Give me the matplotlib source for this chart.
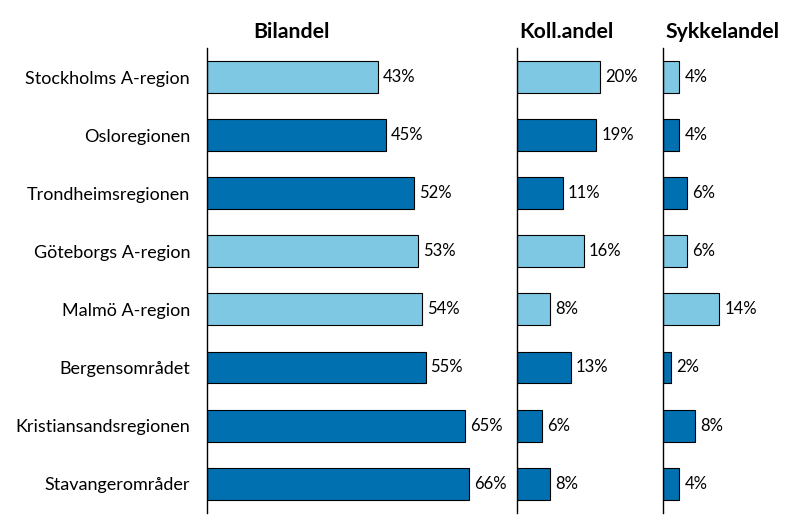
import matplotlib.pyplot as plt
import numpy as np

plt.rcParams['font.family'] = ['Lato', 'DejaVu Sans']

regions = ["Stockholms A-region", "Osloregionen", "Trondheimsregionen",
           "Göteborgs A-region", "Malmö A-region", "Bergensområdet",
           "Kristiansandsregionen", "Stavangerområder"]
swedish = [True, False, False, True, True, False, False, False]
bil = [43, 45, 52, 53, 54, 55, 65, 66]
koll = [20, 19, 11, 16, 8, 13, 6, 8]
sykkel = [4, 4, 6, 6, 14, 2, 8, 4]
titles = ["Bilandel", "Koll.andel", "Sykkelandel"]

light = "#7EC8E4"
dark = "#0070B0"
colors = [light if s else dark for s in swedish]

W, H = 798, 529
fig = plt.figure(figsize=(W / 100, H / 100), dpi=100)

# (left px, px per %, xmax, title center px)
panels = [(206.7, 3.98, 74, 291.7),
          (516.7, 4.18, 31, 566.7),
          (663.3, 4.0, 32, 722.5)]
top, bottom = 48, 512.7
y = np.arange(len(regions))

for (left, ppp, xmax, tx), vals, title in zip(panels, [bil, koll, sykkel], titles):
    ax = fig.add_axes([left / W, 1 - bottom / H, xmax * ppp / W, (bottom - top) / H])
    ax.barh(y, vals, height=0.55, color=colors, edgecolor="black", linewidth=0.8)
    for yi, v in zip(y, vals):
        ax.text(v + 5 / ppp, yi, f"{v}%", va="center", ha="left", fontsize=12)
    ax.set_xlim(0, xmax)
    ax.set_ylim(len(regions) - 0.5, -0.5)
    for s in ["top", "right", "bottom"]:
        ax.spines[s].set_visible(False)
    ax.spines["left"].set_linewidth(1)
    ax.set_xticks([])
    ax.tick_params(axis="y", length=0, pad=12, labelsize=13)
    if left < 300:
        ax.set_yticks(y)
        ax.set_yticklabels(regions)
    else:
        ax.set_yticks([])
    fig.text(tx / W, 1 - 31.5 / H, title, ha="center", va="center",
             fontsize=15.3, fontweight="bold")

fig.savefig("out.png", dpi=100)
